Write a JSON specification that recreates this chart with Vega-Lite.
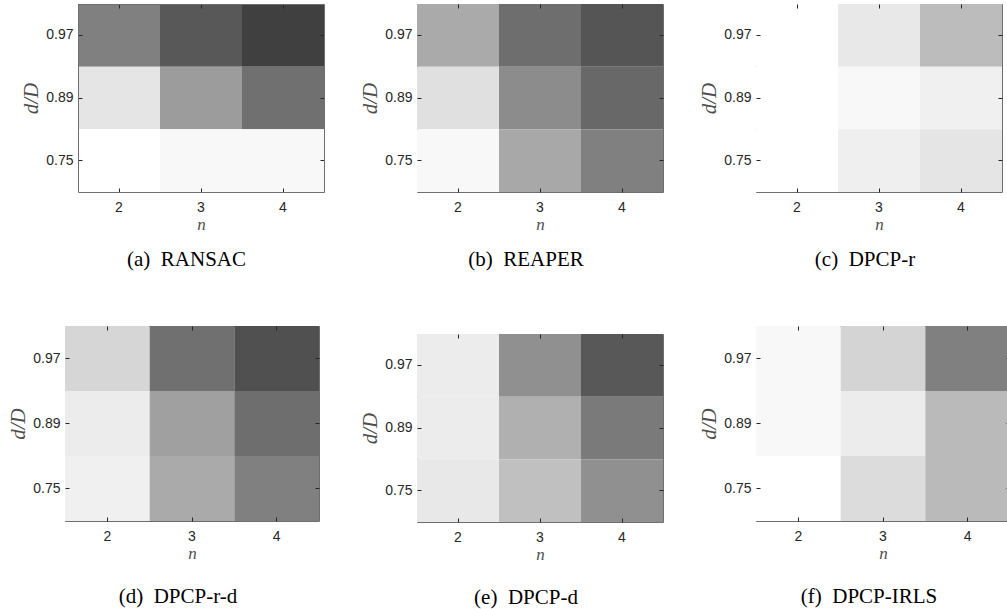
{
  "$schema": "https://vega.github.io/schema/vega-lite/v6.json",
  "padding": {"left": 7, "top": 3, "right": 0, "bottom": 0},
  "background": "white",
  "config": {
    "view": {"stroke": "#6e6e6e", "strokeWidth": 1},
    "axis": {
      "labelFont": "Liberation Sans",
      "labelFontSize": 14,
      "labelColor": "#262626",
      "titleFont": "Liberation Serif",
      "titleFontStyle": "italic",
      "titleFontWeight": "normal",
      "titleColor": "#4d4d4d",
      "domain": false,
      "domainColor": "#6e6e6e",
      "domainWidth": 1,
      "tickColor": "#262626",
      "tickSize": -4,
      "grid": false
    },
    "axisX": {"titleFontSize": 17},
    "axisY": {"titleFontSize": 21},
    "title": {
      "font": "Liberation Serif",
      "fontSize": 21,
      "fontWeight": "normal",
      "color": "#000000",
      "orient": "bottom",
      "anchor": "middle",
      "dx": -14
    }
  },
  "datasets": {
    "a": [
      {"n": "2", "dD": "0.97", "level": 128}, {"n": "3", "dD": "0.97", "level": 88}, {"n": "4", "dD": "0.97", "level": 64},
      {"n": "2", "dD": "0.89", "level": 229}, {"n": "3", "dD": "0.89", "level": 156}, {"n": "4", "dD": "0.89", "level": 112},
      {"n": "2", "dD": "0.75", "level": 255}, {"n": "3", "dD": "0.75", "level": 248}, {"n": "4", "dD": "0.75", "level": 248}
    ],
    "b": [
      {"n": "2", "dD": "0.97", "level": 170}, {"n": "3", "dD": "0.97", "level": 110}, {"n": "4", "dD": "0.97", "level": 85},
      {"n": "2", "dD": "0.89", "level": 224}, {"n": "3", "dD": "0.89", "level": 140}, {"n": "4", "dD": "0.89", "level": 104},
      {"n": "2", "dD": "0.75", "level": 248}, {"n": "3", "dD": "0.75", "level": 168}, {"n": "4", "dD": "0.75", "level": 128}
    ],
    "c": [
      {"n": "2", "dD": "0.97", "level": 255}, {"n": "3", "dD": "0.97", "level": 232}, {"n": "4", "dD": "0.97", "level": 188},
      {"n": "2", "dD": "0.89", "level": 255}, {"n": "3", "dD": "0.89", "level": 248}, {"n": "4", "dD": "0.89", "level": 240},
      {"n": "2", "dD": "0.75", "level": 255}, {"n": "3", "dD": "0.75", "level": 239}, {"n": "4", "dD": "0.75", "level": 229}
    ],
    "d": [
      {"n": "2", "dD": "0.97", "level": 214}, {"n": "3", "dD": "0.97", "level": 112}, {"n": "4", "dD": "0.97", "level": 80},
      {"n": "2", "dD": "0.89", "level": 236}, {"n": "3", "dD": "0.89", "level": 160}, {"n": "4", "dD": "0.89", "level": 110},
      {"n": "2", "dD": "0.75", "level": 240}, {"n": "3", "dD": "0.75", "level": 170}, {"n": "4", "dD": "0.75", "level": 128}
    ],
    "e": [
      {"n": "2", "dD": "0.97", "level": 236}, {"n": "3", "dD": "0.97", "level": 144}, {"n": "4", "dD": "0.97", "level": 88},
      {"n": "2", "dD": "0.89", "level": 236}, {"n": "3", "dD": "0.89", "level": 176}, {"n": "4", "dD": "0.89", "level": 122},
      {"n": "2", "dD": "0.75", "level": 232}, {"n": "3", "dD": "0.75", "level": 192}, {"n": "4", "dD": "0.75", "level": 144}
    ],
    "f": [
      {"n": "2", "dD": "0.97", "level": 248}, {"n": "3", "dD": "0.97", "level": 212}, {"n": "4", "dD": "0.97", "level": 128},
      {"n": "2", "dD": "0.89", "level": 248}, {"n": "3", "dD": "0.89", "level": 236}, {"n": "4", "dD": "0.89", "level": 186},
      {"n": "2", "dD": "0.75", "level": 255}, {"n": "3", "dD": "0.75", "level": 220}, {"n": "4", "dD": "0.75", "level": 186}
    ]
  },
  "concat": [
    {
      "width": 259, "height": 188, "data": {"name": "a"}, "view": {"stroke": null},
      "title": {"text": "(a)\u00a0 RANSAC", "offset": 17, "dx": -8},
      "layer": [
        {"mark": "rect", "encoding": {
          "x": {"field": "n", "type": "ordinal", "scale": {"paddingInner": 0, "paddingOuter": 0, "range": [13, 259]}, "axis": {"orient": "bottom", "labelAngle": 0, "labelPadding": 12, "title": "n", "titlePadding": 2, "domain": true}},
          "y": {"field": "dD", "type": "ordinal", "sort": "descending", "scale": {"paddingInner": 0, "paddingOuter": 0}, "axis": {"orient": "left", "offset": -13, "labelPadding": 9, "title": "d/D", "titlePadding": 4, "domain": true}},
          "color": {"field": "level", "type": "quantitative", "scale": {"domain": [0, 255], "range": ["#000000", "#ffffff"], "interpolate": "rgb"}, "legend": null}}},
        {"mark": {"type": "rect", "opacity": 0}, "encoding": {
          "x": {"field": "n", "type": "ordinal", "axis": {"orient": "top", "labels": false, "title": null, "domain": true}},
          "y": {"field": "dD", "type": "ordinal", "sort": "descending", "axis": {"orient": "right", "labels": false, "title": null, "domain": true}}}}
      ],
      "resolve": {"axis": {"x": "independent", "y": "independent"}}
    },
    {
      "width": 246, "height": 188, "data": {"name": "b"}, "title": {"text": "(b)\u00a0 REAPER", "offset": 17},
      "layer": [
        {"mark": "rect", "encoding": {
          "x": {"field": "n", "type": "ordinal", "scale": {"paddingInner": 0, "paddingOuter": 0}, "axis": {"orient": "bottom", "labelAngle": 0, "labelPadding": 12, "title": "n", "titlePadding": 2}},
          "y": {"field": "dD", "type": "ordinal", "sort": "descending", "scale": {"paddingInner": 0, "paddingOuter": 0}, "axis": {"orient": "left", "labelPadding": 9, "title": "d/D", "titlePadding": 4}},
          "color": {"field": "level", "type": "quantitative", "scale": {"domain": [0, 255], "range": ["#000000", "#ffffff"], "interpolate": "rgb"}, "legend": null}}},
        {"mark": {"type": "rect", "opacity": 0}, "encoding": {
          "x": {"field": "n", "type": "ordinal", "axis": {"orient": "top", "labels": false, "title": null}},
          "y": {"field": "dD", "type": "ordinal", "sort": "descending", "axis": {"orient": "right", "labels": false, "title": null}}}}
      ],
      "resolve": {"axis": {"x": "independent", "y": "independent"}}
    },
    {
      "width": 246, "height": 188, "data": {"name": "c"}, "title": {"text": "(c)\u00a0 DPCP-r", "offset": 17},
      "layer": [
        {"mark": "rect", "encoding": {
          "x": {"field": "n", "type": "ordinal", "scale": {"paddingInner": 0, "paddingOuter": 0}, "axis": {"orient": "bottom", "labelAngle": 0, "labelPadding": 12, "title": "n", "titlePadding": 2}},
          "y": {"field": "dD", "type": "ordinal", "sort": "descending", "scale": {"paddingInner": 0, "paddingOuter": 0}, "axis": {"orient": "left", "labelPadding": 9, "title": "d/D", "titlePadding": 4}},
          "color": {"field": "level", "type": "quantitative", "scale": {"domain": [0, 255], "range": ["#000000", "#ffffff"], "interpolate": "rgb"}, "legend": null}}},
        {"mark": {"type": "rect", "opacity": 0}, "encoding": {
          "x": {"field": "n", "type": "ordinal", "axis": {"orient": "top", "labels": false, "title": null}},
          "y": {"field": "dD", "type": "ordinal", "sort": "descending", "axis": {"orient": "right", "labels": false, "title": null}}}}
      ],
      "resolve": {"axis": {"x": "independent", "y": "independent"}}
    },
    {
      "width": 254, "height": 195, "data": {"name": "d"}, "title": {"text": "(d)\u00a0 DPCP-r-d", "offset": 25},
      "layer": [
        {"mark": "rect", "encoding": {
          "x": {"field": "n", "type": "ordinal", "scale": {"paddingInner": 0, "paddingOuter": 0}, "axis": {"orient": "bottom", "labelAngle": 0, "labelPadding": 12, "title": "n", "titlePadding": 2}},
          "y": {"field": "dD", "type": "ordinal", "sort": "descending", "scale": {"paddingInner": 0, "paddingOuter": 0}, "axis": {"orient": "left", "labelPadding": 9, "title": "d/D", "titlePadding": 4}},
          "color": {"field": "level", "type": "quantitative", "scale": {"domain": [0, 255], "range": ["#000000", "#ffffff"], "interpolate": "rgb"}, "legend": null}}},
        {"mark": {"type": "rect", "opacity": 0}, "encoding": {
          "x": {"field": "n", "type": "ordinal", "axis": {"orient": "top", "labels": false, "title": null}},
          "y": {"field": "dD", "type": "ordinal", "sort": "descending", "axis": {"orient": "right", "labels": false, "title": null}}}}
      ],
      "resolve": {"axis": {"x": "independent", "y": "independent"}}
    },
    {
      "width": 246, "height": 188, "data": {"name": "e"}, "title": {"text": "(e)\u00a0 DPCP-d", "offset": 25},
      "layer": [
        {"mark": "rect", "encoding": {
          "x": {"field": "n", "type": "ordinal", "scale": {"paddingInner": 0, "paddingOuter": 0}, "axis": {"orient": "bottom", "labelAngle": 0, "labelPadding": 12, "title": "n", "titlePadding": 2}},
          "y": {"field": "dD", "type": "ordinal", "sort": "descending", "scale": {"paddingInner": 0, "paddingOuter": 0}, "axis": {"orient": "left", "labelPadding": 9, "title": "d/D", "titlePadding": 4}},
          "color": {"field": "level", "type": "quantitative", "scale": {"domain": [0, 255], "range": ["#000000", "#ffffff"], "interpolate": "rgb"}, "legend": null}}},
        {"mark": {"type": "rect", "opacity": 0}, "encoding": {
          "x": {"field": "n", "type": "ordinal", "axis": {"orient": "top", "labels": false, "title": null}},
          "y": {"field": "dD", "type": "ordinal", "sort": "descending", "axis": {"orient": "right", "labels": false, "title": null}}}},
        {"mark": {"type": "rect", "opacity": 0}, "encoding": {
          "x": {"field": "n", "type": "ordinal", "axis": {"orient": "top", "labels": false, "title": null, "offset": 7, "tickSize": 1, "tickColor": "#ffffff", "tickOpacity": 0}}}}
      ],
      "resolve": {"axis": {"x": "independent", "y": "independent"}}
    },
    {
      "width": 254, "height": 195, "data": {"name": "f"}, "title": {"text": "(f)\u00a0 DPCP-IRLS", "offset": 25},
      "layer": [
        {"mark": "rect", "encoding": {
          "x": {"field": "n", "type": "ordinal", "scale": {"paddingInner": 0, "paddingOuter": 0}, "axis": {"orient": "bottom", "labelAngle": 0, "labelPadding": 12, "title": "n", "titlePadding": 2}},
          "y": {"field": "dD", "type": "ordinal", "sort": "descending", "scale": {"paddingInner": 0, "paddingOuter": 0}, "axis": {"orient": "left", "labelPadding": 9, "title": "d/D", "titlePadding": 4}},
          "color": {"field": "level", "type": "quantitative", "scale": {"domain": [0, 255], "range": ["#000000", "#ffffff"], "interpolate": "rgb"}, "legend": null}}},
        {"mark": {"type": "rect", "opacity": 0}, "encoding": {
          "x": {"field": "n", "type": "ordinal", "axis": {"orient": "top", "labels": false, "title": null}},
          "y": {"field": "dD", "type": "ordinal", "sort": "descending", "axis": {"orient": "right", "labels": false, "title": null}}}}
      ],
      "resolve": {"axis": {"x": "independent", "y": "independent"}}
    }
  ],
  "columns": 3,
  "align": "none",
  "spacing": {"row": 54, "column": 34}
}
